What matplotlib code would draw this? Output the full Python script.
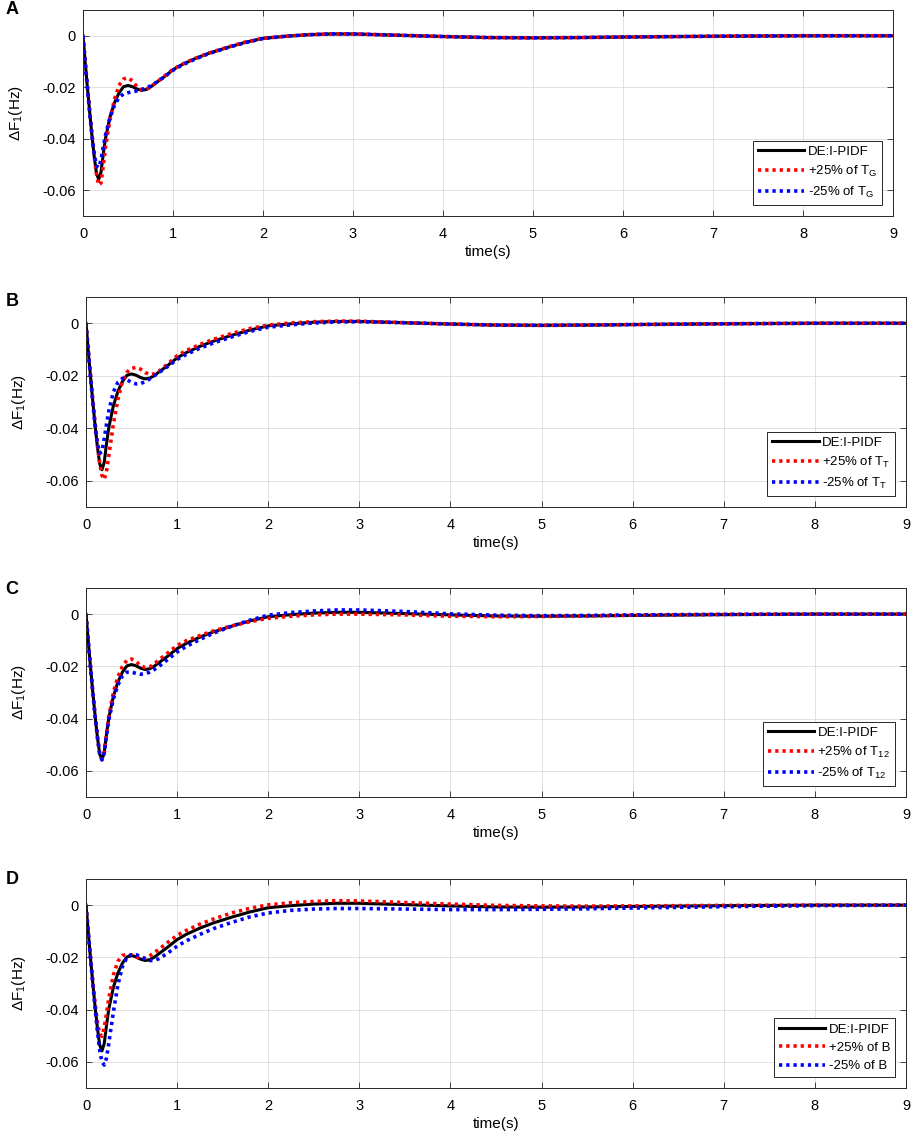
import matplotlib
matplotlib.use('Agg')
import matplotlib.pyplot as plt

plt.rcParams['font.family'] = ['Liberation Sans', 'DejaVu Sans']
plt.rcParams['mathtext.default'] = 'regular'

# time axis shared by all traces (s)
t = [0, .025, .05, .075, .1, .125, .15, .175, .2, .225, .25, .3, .35, .4, .45,
     .5, .55, .6, .65, .7, .75, .8, .9, 1.0, 1.1, 1.25, 1.4, 1.6, 1.8, 2.0,
     2.25, 2.5, 2.75, 3.0, 3.5, 4.0, 4.5, 5.0, 5.5, 6.0, 7.0, 8.0, 9.0]

# nominal DE:I-PIDF response
nominal = [0, -0.0105, -0.0205, -0.0300, -0.0390,
           -0.0470, -0.0535, -0.0558, -0.0530, -0.0460,
           -0.0398, -0.0315, -0.0260, -0.0222, -0.0198,
           -0.0193, -0.0198, -0.0207, -0.0212, -0.0209,
           -0.0199, -0.0186, -0.0160, -0.0132, -0.0112,
           -0.0088, -0.0068, -0.0046, -0.0026, -0.0010,
           -0.0002, 0.0004, 0.0007, 0.0007, 0.0002,
           -0.0003, -0.0007, -0.0008, -0.0007, -0.0005,
           -0.0002, 0.0, 0.0]

# A: T_G
tg_plus = [0, -0.0103, -0.0200, -0.0293, -0.0383,
           -0.0466, -0.0538, -0.0580, -0.0572, -0.0505,
           -0.0432, -0.0325, -0.0247, -0.0193, -0.0168,
           -0.0163, -0.0176, -0.0198, -0.0210, -0.0209,
           -0.0199, -0.0185, -0.0158, -0.0130, -0.0111,
           -0.0087, -0.0067, -0.0045, -0.0025, -0.0010,
           -0.0002, 0.0004, 0.0007, 0.0007, 0.0002,
           -0.0003, -0.0007, -0.0008, -0.0007, -0.0005,
           -0.0002, 0.0, 0.0]
tg_minus = [0, -0.0106, -0.0207, -0.0302, -0.0390,
            -0.0460, -0.0505, -0.0512, -0.0482, -0.0432,
            -0.0385, -0.0318, -0.0270, -0.0240, -0.0226,
            -0.0221, -0.0218, -0.0214, -0.0209, -0.0203,
            -0.0195, -0.0184, -0.0161, -0.0134, -0.0114,
            -0.0090, -0.0069, -0.0047, -0.0027, -0.0011,
            -0.0002, 0.0004, 0.0007, 0.0007, 0.0002,
            -0.0003, -0.0007, -0.0008, -0.0007, -0.0005,
            -0.0002, 0.0, 0.0]

# B: T_T
tt_plus = [0, -0.0103, -0.0200, -0.0292, -0.0380,
           -0.0462, -0.0532, -0.0580, -0.0595, -0.0565,
           -0.0505, -0.0385, -0.0290, -0.0222, -0.0186,
           -0.0172, -0.0168, -0.0175, -0.0188, -0.0195,
           -0.0193, -0.0183, -0.0154, -0.0124, -0.0104,
           -0.0081, -0.0061, -0.0039, -0.0020, -0.0007,
           0.0001, 0.0006, 0.0008, 0.0008, 0.0002,
           -0.0003, -0.0007, -0.0008, -0.0007, -0.0005,
           -0.0002, 0.0, 0.0]
tt_minus = [0, -0.0106, -0.0207, -0.0303, -0.0392,
            -0.0458, -0.0495, -0.0490, -0.0440, -0.0385,
            -0.0335, -0.0262, -0.0225, -0.0210, -0.0215,
            -0.0226, -0.0231, -0.0230, -0.0222, -0.0212,
            -0.0200, -0.0188, -0.0164, -0.0138, -0.0119,
            -0.0095, -0.0075, -0.0052, -0.0031, -0.0015,
            -0.0006, 0.0001, 0.0005, 0.0006, 0.0002,
            -0.0003, -0.0007, -0.0008, -0.0007, -0.0005,
            -0.0002, 0.0, 0.0]

# C: T_12
t12_plus = [0, -0.0105, -0.0205, -0.0300, -0.0390,
            -0.0470, -0.0533, -0.0555, -0.0530, -0.0458,
            -0.0392, -0.0300, -0.0240, -0.0200, -0.0176,
            -0.0172, -0.0182, -0.0197, -0.0205, -0.0202,
            -0.0190, -0.0175, -0.0148, -0.0120, -0.0102,
            -0.0082, -0.0064, -0.0045, -0.0029, -0.0016,
            -0.0008, -0.0003, 0.0000, 0.0000, -0.0003,
            -0.0008, -0.0010, -0.0009, -0.0007, -0.0004,
            -0.0001, 0.0, 0.0]
t12_minus = [0, -0.0105, -0.0205, -0.0300, -0.0390,
             -0.0470, -0.0535, -0.0558, -0.0533, -0.0466,
             -0.0405, -0.0325, -0.0272, -0.0236, -0.0222,
             -0.0222, -0.0227, -0.0230, -0.0228, -0.0222,
             -0.0212, -0.0200, -0.0173, -0.0145, -0.0124,
             -0.0097, -0.0073, -0.0046, -0.0023, -0.0004,
             0.0006, 0.0012, 0.0016, 0.0016, 0.0010,
             0.0001, -0.0004, -0.0006, -0.0005, -0.0003,
             -0.0001, 0.0, 0.0]

# D: B
b_plus = [0, -0.0105, -0.0203, -0.0295, -0.0378,
          -0.0447, -0.0493, -0.0502, -0.0470, -0.0415,
          -0.0358, -0.0268, -0.0215, -0.0193, -0.0188,
          -0.0191, -0.0199, -0.0205, -0.0203, -0.0194,
          -0.0182, -0.0169, -0.0142, -0.0116, -0.0097,
          -0.0073, -0.0053, -0.0030, -0.0012, 0.0001,
          0.0009, 0.0014, 0.0017, 0.0016, 0.0010,
          0.0004, -0.0001, -0.0003, -0.0004, -0.0003,
          -0.0001, 0.0, 0.0]
b_minus = [0, -0.0105, -0.0205, -0.0302, -0.0395,
           -0.0482, -0.0555, -0.0600, -0.0612, -0.0585,
           -0.0530, -0.0410, -0.0305, -0.0235, -0.0200,
           -0.0190, -0.0190, -0.0196, -0.0205, -0.0212,
           -0.0212, -0.0205, -0.0183, -0.0157, -0.0137,
           -0.0112, -0.0090, -0.0066, -0.0045, -0.0030,
           -0.0020, -0.0015, -0.0013, -0.0013, -0.0015,
           -0.0017, -0.0017, -0.0016, -0.0014, -0.0011,
           -0.0006, -0.0002, 0.0]

panel_letters = ['A', 'B', 'C', 'D']
param_names = ['T$_G$', 'T$_T$', 'T$_{12}$', 'B']
plus_series = [tg_plus, tt_plus, t12_plus, b_plus]
minus_series = [tg_minus, tt_minus, t12_minus, b_minus]

xticks = [0, 1, 2, 3, 4, 5, 6, 7, 8, 9]
yticks = [-0.06, -0.04, -0.02, 0]
ytick_labels = ['-0.06', '-0.04', '-0.02', '0']

W, H = 913, 1132
# axes boxes in pixels: left, top, right, bottom
boxes = [(83, 10, 893, 216),
         (86, 297, 906, 507),
         (86, 588, 906, 797),
         (86, 879, 906, 1088)]
letter_y = [10, 301, 590, 880]

fig = plt.figure(figsize=(W / 100, H / 100), dpi=100)

for i in range(4):
    l, tp, r, b = boxes[i]
    ax = fig.add_axes([l / W, 1 - b / H, (r - l) / W, (b - tp) / H])
    ax.plot(t, nominal, color='k', lw=2.2, label='DE:I-PIDF')
    ax.plot(t, plus_series[i], color='#ff0000', lw=2.6, ls=(0, (0.9, 1.1)),
            label='+25% of ' + param_names[i])
    ax.plot(t, minus_series[i], color='#0000ff', lw=2.6, ls=(0, (0.9, 1.1)),
            label='-25% of ' + param_names[i])
    ax.set_xlim(0, 9)
    ax.set_ylim(-0.07, 0.01)
    ax.set_xticks(xticks)
    ax.set_yticks(yticks)
    ax.set_yticklabels(ytick_labels)
    ax.grid(True, color='#dcdcdc', lw=0.6)
    ax.set_axisbelow(True)
    ax.tick_params(direction='in', top=True, right=True, length=4,
                   width=0.6, color='#262626', labelsize=10.5)
    ax.tick_params(axis='x', pad=8)
    ax.tick_params(axis='y', pad=5)
    for s in ax.spines.values():
        s.set_color('#262626')
        s.set_linewidth(0.7)
    ax.set_xlabel('time(s)', fontsize=11, labelpad=3)
    ax.set_ylabel('ΔF$_1$(Hz)', fontsize=11, labelpad=13)
    leg = ax.legend(loc='lower right', fontsize=9.5, handlelength=3.5,
                    fancybox=False, framealpha=1, edgecolor='#262626',
                    borderaxespad=0.8, labelspacing=0.45, handletextpad=0.25,
                    borderpad=0.4)
    leg.get_frame().set_linewidth(0.7)
    fig.text(12 / W, 1 - letter_y[i] / H, panel_letters[i], fontsize=13,
             fontweight='bold', ha='center', va='center')

fig.savefig('out.png', dpi=100)
